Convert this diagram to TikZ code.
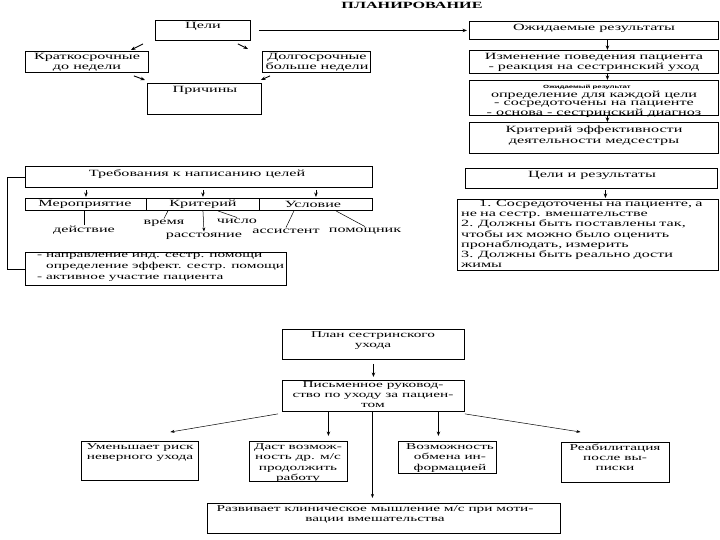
\documentclass[tikz,border=0pt]{standalone}
\usepackage{fontspec}
\setmainfont{Liberation Serif}[FakeStretch=1.7]
\newfontfamily\tinysans{Liberation Sans}[FakeStretch=1.7]
\usetikzlibrary{arrows.meta,calc}
\tikzset{
  box/.style={draw, line width=0.9pt, inner sep=0pt},
  txt/.style={inner sep=0pt, align=center, font=\fontsize{9.5}{10.5}\selectfont},
  txtb/.style={inner sep=0pt, align=center, font=\fontsize{9.5}{10.5}\selectfont},
  txts/.style={inner sep=0pt, align=center, font=\fontsize{9}{10.3}\selectfont},
  arr/.style={-{Stealth[length=4.5pt,width=3.5pt]}, line width=0.9pt},
  thin/.style={line width=0.5pt},
  thinarr/.style={-{Stealth[length=4pt,width=3pt]}, line width=0.5pt},
}
\newcommand\mybox[5]{\node[box,anchor=north west,minimum width=#4pt,minimum height=#5pt] (#1) at (#2,#3) {};}
\begin{document}
\begin{tikzpicture}[x=1pt,y=-1pt]
\useasboundingbox (0,0) rectangle (720,540);
\fill[white] (0,0) rectangle (720,540);

\node[inner sep=0pt, font=\bfseries\fontsize{9.5}{10}\selectfont] (title) at (412,5) {ПЛАНИРОВАНИЕ};

% ---------- boxes ----------
\mybox{goals}{155}{20}{95}{20}
\mybox{expected}{469}{21}{249}{18}
\mybox{change}{469}{50}{249}{23}
\mybox{expres}{469}{80}{249}{35}
\mybox{crit}{469}{122}{249}{31}
\mybox{short}{25}{51}{123}{21}
\mybox{long}{262}{51}{108}{21}
\mybox{causes}{147}{83}{114}{31}
\mybox{req}{25}{166}{347}{21}
\mybox{meas}{25}{198}{121}{12}
\mybox{critr}{146}{198}{113}{12}
\mybox{cond}{259}{198}{113}{12}
\mybox{dir}{25}{252}{261}{33}
\mybox{gr}{465}{168}{252}{20}
\mybox{list}{457}{199}{261}{71}
\mybox{plan}{282}{329}{182}{30}
\mybox{pis}{282}{380}{182}{31}
\mybox{less}{81}{441}{117}{39}
\mybox{dast}{249}{441}{98}{40}
\mybox{poss}{398}{441}{98}{32}
\mybox{rehab}{561}{442}{108}{40}
\mybox{dev}{207}{503}{353}{30}

% ---------- texts ----------
\node[txt] (tgoals) at (203,26) {Цели};
\node[txt] (texp) at (594,28) {Ожидаемые результаты};
\node[txtb, anchor=north] (tchange) at (594,53) {Изменение поведения пациента\\- реакция на сестринский уход};
\node[inner sep=0pt, font=\tinysans\bfseries\fontsize{4.6}{5}\selectfont] (texpres0) at (587,87) {Ожидаемый результат};
\node[txtb, anchor=north, font=\fontsize{9.5}{8.4}\selectfont] (texpres) at (594,90.5) {определение для каждой цели\\- сосредоточены на пациенте\\- основа - сестринский диагноз};
\node[txtb, anchor=north] (tcrit) at (594,126) {Критерий эффективности\\деятельности медсестры};
\node[txt, anchor=north] (tshort) at (87,53) {Краткосрочные\\до недели};
\node[txt, anchor=north] (tlong) at (317,53) {Долгосрочные\\больше недели};
\node[txt] (tcauses) at (205,90) {Причины};

\node[txt] (treq) at (197,174) {Требования к написанию целей};
\node[txt] (tmeas) at (85,204) {Мероприятие};
\node[txt] (tcritr) at (203,204) {Критерий};
\node[txt] (tcond) at (313,204) {Условие};
\node[txt] (tact) at (84,230) {действие};
\node[txt] (ttime) at (164,223) {время};
\node[txt] (tnum) at (237,221) {число};
\node[txt] (tdist) at (204,236) {расстояние};
\node[txt] (tasst) at (286,231) {ассистент};
\node[txt] (thelp) at (365,231) {помощник};
\node[txt, anchor=north west, align=left, font=\fontsize{9}{11}\selectfont] (tdir) at (37,253.5) {- направление инд. сестр. помощи\\\phantom{- }определение эффект. сестр. помощи\\- активное участие пациента};

\node[txt] (tgr) at (592,175) {Цели и результаты};
\node[txt, anchor=north west, align=left, text width=252pt, font=\fontsize{9.5}{10.2}\selectfont] (tlist) at (461,200) {%
\makebox[\hsize][s]{\hspace*{18pt}1. Сосредоточены на пациенте, а}\\
не на сестр. вмешательстве\\
\makebox[\hsize][s]{2. Должны быть поставлены так,}\\
\makebox[\hsize][s]{чтобы их можно было оценить}\\
пронаблюдать, измерить\\
\makebox[\hsize][s]{3. Должны быть реально дости}\\
жимы};

\node[txts, anchor=north] (tplan) at (373,331) {План сестринского\\ухода};
\node[txts, anchor=north] (tpis) at (373,381) {Письменное руковод-\\ство по уходу за пациен-\\том};
\node[txts, anchor=north] (tless) at (140,443) {Уменьшает риск\\неверного ухода};
\node[txts, anchor=north] (tdast) at (298,443.5) {Даст возмож-\\ность др. м/с\\продолжить\\работу};
\node[txts, anchor=north] (tposs) at (450,443.5) {Возможность\\обмена ин-\\формацией};
\node[txts, anchor=north] (trehab) at (615,443.5) {Реабилитация\\после вы-\\писки};
\node[txts, anchor=north] (tdev) at (375,505) {Развивает клиническое мышление м/с при моти-\\вации вмешательства};

% ---------- connectors ----------
\draw[arr, shorten <=8pt, shorten >=2pt] (goals.east) -- (expected.west |- goals.east);
\draw[arr] ([xshift=13.5pt]expected.south) -- ([xshift=13.5pt]change.north);
\draw[arr] ([xshift=13.5pt]change.south) -- ([xshift=13.5pt]expres.north);
\draw[arr] ([xshift=13.5pt]expres.south) -- ([xshift=13.5pt]crit.north);

\draw[arr] ([xshift=-12pt,yshift=-3pt]goals.south west) -- ([xshift=-18pt,yshift=1pt]short.north east);
\draw[arr] ([xshift=-13pt,yshift=-3pt]goals.south east) -- ([xshift=-14pt,yshift=2pt]long.north west);
\draw[arr] ([xshift=-15pt,yshift=-3pt]short.south east) -- ([xshift=-2pt,yshift=3pt]causes.north west);
\draw[arr] ([xshift=8pt,yshift=-3pt]long.south west) -- ([xshift=-1pt,yshift=3pt]causes.north east);

\draw[thin] (req.west) -- ++(-18,0) |- (dir.west);
\draw[arr, shorten <=2pt, shorten >=1pt] (req.south -| meas.north) -- (meas.north);
\draw[arr, shorten <=2pt, shorten >=1pt] (req.south -| critr.north) -- (critr.north);
\draw[arr, shorten <=2pt, shorten >=1pt] (req.south -| cond.north) -- (cond.north);

\draw[thin] (meas.south -| tact.north) -- ([yshift=1pt]tact.north);
\draw[thin] ([xshift=-35pt]critr.south) -- ([yshift=1pt]ttime.north);
\draw[thinarr] (critr.south) -- ([yshift=1pt]tdist.north);
\draw[thin] ([xshift=15pt]critr.south) -- ([yshift=1pt]tnum.north);
\draw[thin] ([xshift=-22pt]cond.south) -- ([yshift=1pt]tasst.north);
\draw[thin] ([xshift=20pt]cond.south) -- ([yshift=1pt]thelp.north);

\draw[arr, shorten <=1pt, shorten >=1pt] ([xshift=14pt]gr.south) -- ([xshift=17.5pt]list.north);

\draw[arr, shorten <=4pt, shorten >=3pt] (plan.south) -- (pis.north);
\draw[thinarr] ([xshift=-4pt,yshift=-2pt]pis.south west) -- ([xshift=30.5pt,yshift=9pt]less.north);
\draw[arr, shorten >=5pt] ([xshift=-45pt]pis.south) -- ([xshift=30pt]dast.north);
\draw[thinarr, shorten >=5pt] ([xshift=-1pt]pis.south) -- ([xshift=-11.5pt]dev.north);
\draw[arr, shorten >=5pt] ([xshift=65pt]pis.south) -- ([xshift=-9pt]poss.north);
\draw[thinarr] ([yshift=-2pt]pis.south east) -- ([xshift=-35pt,yshift=10pt]rehab.north);
\end{tikzpicture}
\end{document}
